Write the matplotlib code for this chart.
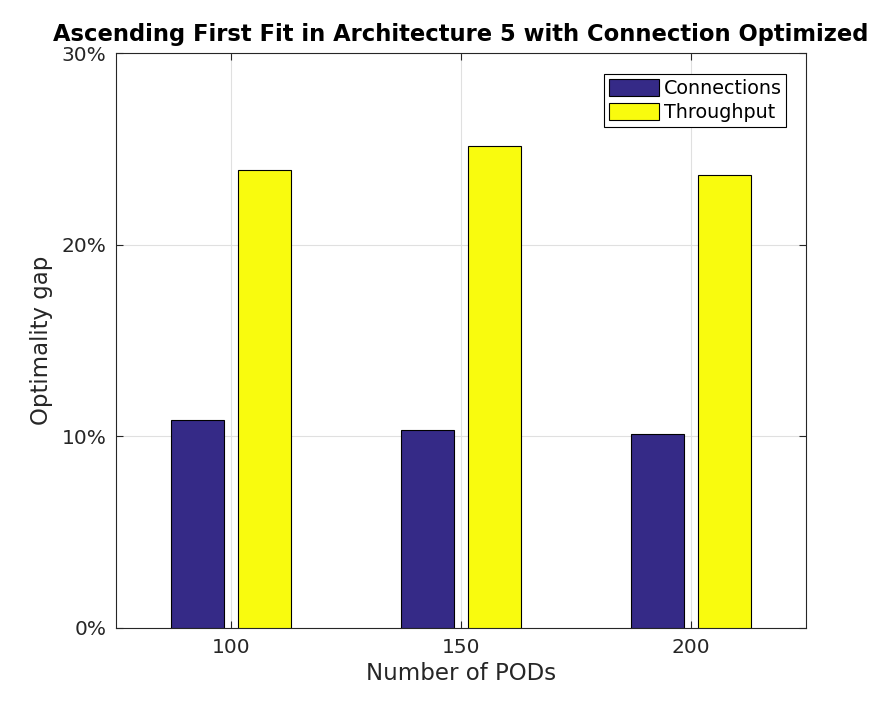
import matplotlib
matplotlib.use("Agg")
import matplotlib.pyplot as plt
import numpy as np
from matplotlib.ticker import FuncFormatter

pods = [100, 150, 200]
connections = [10.85, 10.33, 10.12]
throughput = [23.9, 25.14, 23.63]
series_names = ["Connections", "Throughput"]
colors = ["#352a87", "#f9fb0e"]

fig = plt.figure(figsize=(8.91, 7.03), dpi=100)
ax = fig.add_axes([0.1302, 0.1067, 0.7744, 0.8179])

x = np.array(pods, dtype=float)
w = 11.5
off = 7.2
ax.bar(x - off, connections, width=w, color=colors[0], edgecolor="black", linewidth=0.8, label=series_names[0], zorder=3)
ax.bar(x + off, throughput, width=w, color=colors[1], edgecolor="black", linewidth=0.8, label=series_names[1], zorder=3)

ax.set_xlim(75, 225)
ax.set_ylim(0, 30)
ax.set_xticks(pods)
ax.set_yticks([0, 10, 20, 30])
ax.yaxis.set_major_formatter(FuncFormatter(lambda v, p: f"{int(v)}%"))
ax.grid(True, color="#e0e0e0", linewidth=0.8, zorder=0)
ax.set_axisbelow(True)
ax.tick_params(direction="in", length=5, width=0.8, top=True, right=True, labelsize=14.5, colors="#262626", pad=7)
for s in ax.spines.values():
    s.set_linewidth(0.8)
    s.set_color("#262626")

ax.set_xlabel("Number of PODs", fontsize=16.5, color="#262626", labelpad=4)
ax.set_ylabel("Optimality gap", fontsize=16.5, color="#262626", labelpad=6)
ax.set_title("Ascending First Fit in Architecture 5 with Connection Optimized", fontsize=16.3, fontweight="bold", pad=9)

leg = ax.legend(loc="upper right", bbox_to_anchor=(0.9715, 0.963), fontsize=13.8, fancybox=False, framealpha=1,
                edgecolor="black", borderpad=0.25, handlelength=2.6, handleheight=1.0, handletextpad=0.25,
                labelspacing=0.25, borderaxespad=0)
leg.get_frame().set_linewidth(0.8)

fig.savefig("out.png", dpi=100)
